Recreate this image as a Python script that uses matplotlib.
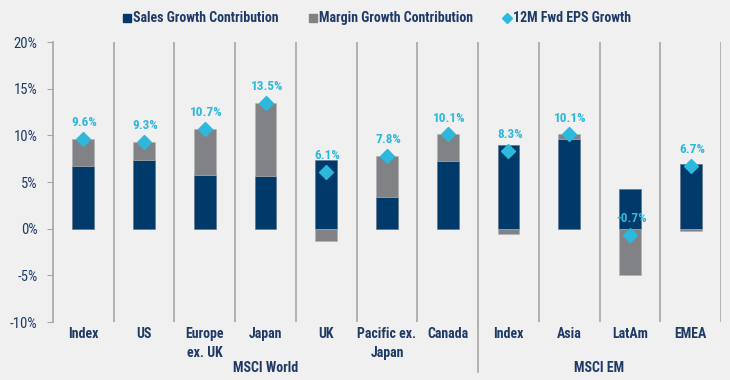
import matplotlib
matplotlib.use("Agg")
import matplotlib.pyplot as plt
from matplotlib.lines import Line2D
from matplotlib import font_manager as fm
import numpy as np

categories = ["Index", "US", "Europe\nex. UK", "Japan", "UK", "Pacific ex.\nJapan", "Canada",
              "Index", "Asia", "LatAm", "EMEA"]
sales = [6.73, 7.38, 5.8, 5.66, 7.4, 3.37, 7.2, 8.92, 9.57, 4.25, 6.95]
margin = [2.87, 1.92, 4.9, 7.84, -1.3, 4.43, 2.9, -0.62, 0.53, -4.95, -0.25]
eps = [9.6, 9.3, 10.7, 13.5, 6.1, 7.8, 10.1, 8.3, 10.1, -0.7, 6.7]
groups = ["MSCI World", "MSCI EM"]
group_sizes = [7, 4]
yticks = [-10, -5, 0, 5, 10, 15, 20]
legend_labels = ["Sales Growth Contribution", "Margin Growth Contribution", "12M Fwd EPS Growth"]

NAVY = "#003A6B"
GRAY = "#808285"
CYAN = "#2DB8DC"
TXT = "#1E3A66"
BG = "#F0F0F0"
SEP = "#A6A6A6"

names = {f.name for f in fm.fontManager.ttflist}
fam = [n for n in ["Liberation Sans Narrow", "Roboto Condensed", "DejaVu Sans"] if n in names]
plt.rcParams['font.family'] = fam

fig = plt.figure(figsize=(7.3, 3.8), dpi=100, facecolor=BG)
ax = fig.add_axes([53/730, 1-322/380, (721-53)/730, (322-42)/380], facecolor=BG)

x = np.arange(len(categories))
w = 0.36
ax.bar(x, sales, w, color=NAVY, zorder=2, edgecolor="#5a6f86", linewidth=0.4)
m = np.array(margin)
bottoms = np.where(m >= 0, sales, 0)
ax.bar(x, m, w, bottom=bottoms, color=GRAY, zorder=2, edgecolor="#b0b0b0", linewidth=0.4)
ax.scatter(x, eps, marker="D", s=50, color=CYAN, zorder=3)
for xi, v in zip(x, eps):
    ax.annotate(f"{v:.1f}%", (xi, v), xytext=(1, 7), textcoords="offset points",
                ha="center", va="bottom", color=CYAN, fontsize=9.5, fontweight="bold", zorder=4)

ax.set_xlim(-0.5, len(categories) - 0.5)
ax.set_ylim(-10, 20)
ax.set_yticks(yticks)
ax.set_yticklabels([f"{t}%" for t in yticks], color=TXT, fontsize=10.5)
ax.tick_params(axis="y", length=4, color=SEP, pad=7)
ax.set_xticks([])
for s in ["top", "right", "bottom"]:
    ax.spines[s].set_visible(False)
ax.spines["left"].set_color(SEP)
ax.spines["left"].set_linewidth(1.2)

for i in range(1, len(categories) + 1):
    ax.axvline(i - 0.5, color=SEP, lw=1.2, zorder=1)

for xi, c in zip(x, categories):
    ax.text(xi, -10.5, c, ha="center", va="top", color=TXT, fontsize=10,
            fontweight="bold", linespacing=1.45)

start = 0
for g, n in zip(groups, group_sizes):
    ax.text(start + n / 2 - 0.5, -14.15, g, ha="center", va="top", color=TXT,
            fontsize=10, fontweight="bold")
    start += n
ax.add_line(Line2D([6.5, 6.5], [-10, -15.4], color=SEP, lw=1.2, clip_on=False))

# legend drawn manually
ly = 1 - 18/380
marks = [("s", NAVY, 6), ("s", GRAY, 6), ("D", CYAN, 5)]
mx = [127, 313, 507]
for (mk, col, ms), xx, lab in zip(marks, mx, legend_labels):
    fig.add_artist(Line2D([xx/730], [ly], marker=mk, color=col, markersize=ms, ls="",
                          transform=fig.transFigure))
    fig.text((xx + 6)/730, ly, lab, ha="left", va="center", color=TXT, fontsize=10,
             fontweight="bold")

fig.savefig("out.png", dpi=100, facecolor=BG)
